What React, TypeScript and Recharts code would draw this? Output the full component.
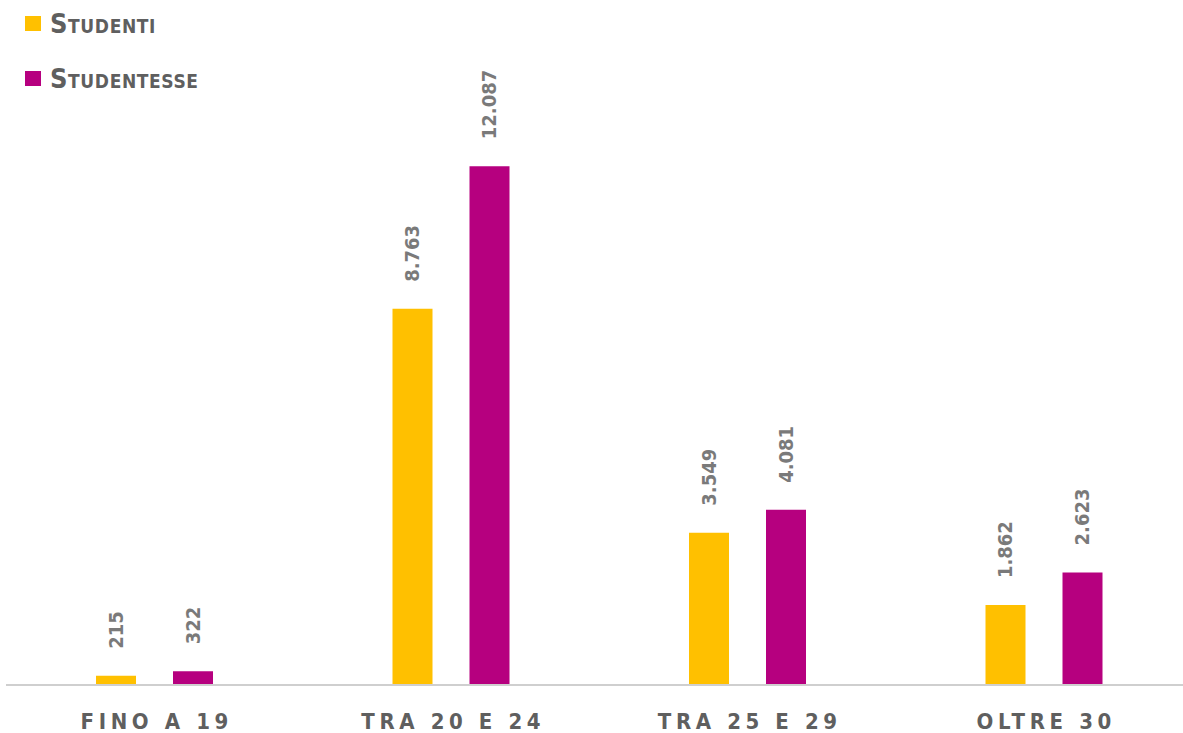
import React from 'react';
import { BarChart, Bar, XAxis, YAxis, Legend, LabelList } from 'recharts';

const categories = ['FINO A 19', 'TRA 20 E 24', 'TRA 25 E 29', 'OLTRE 30'];
const studenti = [215, 8763, 3549, 1862];
const studentesse = [322, 12087, 4081, 2623];
const seriesNames = ['Studenti', 'Studentesse'];
const seriesColors = ['#FFC000', '#B6007F'];

const data = categories.map((c, i) => ({ cat: c, studenti: studenti[i], studentesse: studentesse[i] }));

const FONT = '"DejaVu Sans Condensed", "DejaVu Sans", sans-serif';

const fmt = (v: number) => String(v).replace(/\B(?=(\d{3})+(?!\d))/g, '.');

const ValueLabel = (props: any) => {
  const { x, y, width, value } = props;
  const cx = x + width / 2;
  const ty = y - 27;
  return (
    <text
      x={cx}
      y={ty}
      transform={`rotate(-90, ${cx}, ${ty})`}
      textAnchor="start"
      dominantBaseline="central"
      fill="#7a7a7a"
      fontFamily={FONT}
      fontWeight="bold"
      fontSize={20}
    >
      {fmt(value)}
    </text>
  );
};

const Tick = (props: any) => {
  const { x, y, payload } = props;
  return (
    <text
      x={x + 2.5}
      y={y + 36}
      textAnchor="middle"
      fill="#5f5f5f"
      fontFamily={FONT}
      fontWeight="bold"
      fontSize={22}
      letterSpacing={4.6}
    >
      {payload.value}
    </text>
  );
};

const LegendContent = () => (
  <div style={{ fontFamily: FONT }}>
    {seriesNames.map((n, i) => (
      <div key={n} style={{ display: 'flex', alignItems: 'center', height: 28, marginBottom: 27 }}>
        <div style={{ width: 16, height: 15, background: seriesColors[i], marginRight: 9 }} />
        <span style={{ fontVariant: 'small-caps', fontWeight: 'bold', fontSize: 27, letterSpacing: 0.6, color: '#5f5f5f' }}>{n}</span>
      </div>
    ))}
  </div>
);

export default function App() {
  return (
    <div style={{ position: 'absolute', left: 0, top: 0, width: 1183, height: 733, overflow: 'hidden', background: '#fff' }}>
      <BarChart
        width={1192}
        height={733}
        data={data}
        margin={{ top: 127, right: 0, bottom: 0, left: 6 }}
        barGap={37}
        barSize={40}
      >
        <YAxis hide domain={[0, 13000]} />
        <XAxis
          dataKey="cat"
          height={48}
          axisLine={{ stroke: '#cfcfcf', strokeWidth: 2 }}
          tickLine={false}
          tick={<Tick />}
          interval={0}
        />
        <Legend
          verticalAlign="middle"
          align="center"
          layout="vertical"
          wrapperStyle={{ position: 'absolute', top: 9, left: 25, width: 300 }}
          content={<LegendContent />}
        />
        <Bar dataKey="studenti" name={seriesNames[0]} fill={seriesColors[0]} isAnimationActive={false}>
          <LabelList dataKey="studenti" content={<ValueLabel />} />
        </Bar>
        <Bar dataKey="studentesse" name={seriesNames[1]} fill={seriesColors[1]} isAnimationActive={false}>
          <LabelList dataKey="studentesse" content={<ValueLabel />} />
        </Bar>
      </BarChart>
    </div>
  );
}
